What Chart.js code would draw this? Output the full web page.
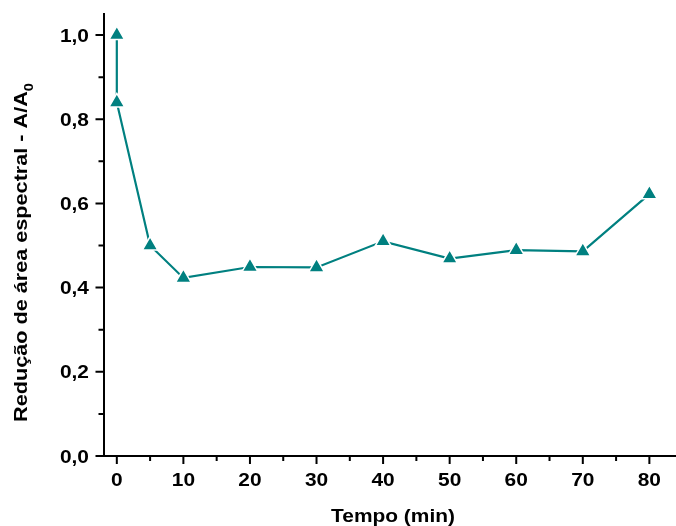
<!DOCTYPE html>
<html>
<head>
<meta charset="utf-8">
<script src="https://cdn.jsdelivr.net/npm/chart.js@4/dist/chart.umd.min.js"></script>
<style>
    html, body { margin: 0; padding: 0; background: #fff; }
    #wrap { width: 676px; height: 526px; position: relative; }
</style>
</head>
<body>
<div id="wrap"><canvas id="reductionChart"></canvas></div>
<script>
// Data
const timeMin = [0, 0, 5, 10, 20, 30, 40, 50, 60, 70, 80];
const areaRatio = [1.0, 0.84, 0.50, 0.423, 0.449, 0.448, 0.51, 0.469, 0.489, 0.486, 0.622];

// Tick values
const xMajorTicks = [0, 10, 20, 30, 40, 50, 60, 70, 80];
const xMinorTicks = [5, 15, 25, 35, 45, 55, 65, 75];
const yMajorTicks = [0, 0.2, 0.4, 0.6, 0.8, 1.0];
const yMinorTicks = [0.1, 0.3, 0.5, 0.7, 0.9];

const xTitle = 'Tempo (min)';
const yTitle = 'Redução de área espectral - A/A';
const yTitleSub = '0';

const teal = '#008080';
const fontFamily = '"Liberation Sans", Arial, sans-serif';
const fontSize = 18.5;
const stretch = 1.13; // the original text is a bit wider than plain Arial

// draw text stretched horizontally, anchored at (x, y) with given alignment
function stretchedText(ctx, text, x, y, align, k) {
    const s = k || stretch;
    const w = ctx.measureText(text).width * s;
    let left = x;
    if (align === 'center') left = x - w / 2;
    if (align === 'right') left = x - w;
    ctx.save();
    ctx.translate(left, y);
    ctx.scale(s, 1);
    ctx.textAlign = 'left';
    ctx.fillText(text, 0, 0);
    ctx.restore();
    return w;
}

// Ticks, tick labels and axis titles drawn on top
const axesPlugin = {
    id: 'axesExtras',
    afterDraw(chart) {
        const ctx = chart.ctx;
        const x = chart.scales.x;
        const y = chart.scales.y;
        const area = chart.chartArea;

        ctx.save();
        ctx.strokeStyle = '#000';
        ctx.lineWidth = 2;
        ctx.beginPath();
        xMajorTicks.forEach(v => {
            const px = x.getPixelForValue(v);
            ctx.moveTo(px, area.bottom);
            ctx.lineTo(px, area.bottom + 8);
        });
        xMinorTicks.forEach(v => {
            const px = x.getPixelForValue(v);
            ctx.moveTo(px, area.bottom);
            ctx.lineTo(px, area.bottom + 5);
        });
        yMajorTicks.forEach(v => {
            const py = y.getPixelForValue(v);
            ctx.moveTo(area.left, py);
            ctx.lineTo(area.left - 8, py);
        });
        yMinorTicks.forEach(v => {
            const py = y.getPixelForValue(v);
            ctx.moveTo(area.left, py);
            ctx.lineTo(area.left - 5, py);
        });
        ctx.stroke();

        ctx.fillStyle = '#000';
        ctx.font = 'bold ' + fontSize + 'px ' + fontFamily;
        ctx.textBaseline = 'alphabetic';

        // tick labels
        xMajorTicks.forEach(v => {
            stretchedText(ctx, String(v), x.getPixelForValue(v), 486, 'center');
        });
        yMajorTicks.forEach(v => {
            const label = v.toFixed(1).replace('.', ',');
            stretchedText(ctx, label, 89, y.getPixelForValue(v) + 6.6, 'right');
        });

        // x title
        stretchedText(ctx, xTitle, 393, 522, 'center');

        // y title, rotated, with subscript 0
        const k = 1.17;
        const wMain = ctx.measureText(yTitle).width * k;
        ctx.font = 'bold 12.5px ' + fontFamily;
        const wSub = ctx.measureText(yTitleSub).width * k;
        const total = wMain + wSub;
        ctx.translate(27, 252.5);
        ctx.rotate(-Math.PI / 2);
        ctx.font = 'bold ' + fontSize + 'px ' + fontFamily;
        stretchedText(ctx, yTitle, -total / 2, 0, 'left', k);
        ctx.font = 'bold 12.5px ' + fontFamily;
        stretchedText(ctx, yTitleSub, -total / 2 + wMain, 6, 'left', k);
        ctx.restore();
    }
};

const ctxChart = document.getElementById('reductionChart').getContext('2d');
const chartReduction = new Chart(ctxChart, {
    type: 'line',
    data: {
        datasets: [{
            data: timeMin.map((t, i) => ({ x: t, y: areaRatio[i] })),
            borderColor: teal,
            borderWidth: 2.2,
            backgroundColor: teal,
            pointStyle: 'triangle',
            pointRadius: 9,
            pointHoverRadius: 9,
            pointBackgroundColor: teal,
            pointBorderColor: '#fff',
            pointBorderWidth: 1.5,
            tension: 0,
            clip: false
        }]
    },
    options: {
        responsive: true,
        maintainAspectRatio: false,
        animation: false,
        layout: { autoPadding: false, padding: { left: 0, right: 0, top: 14, bottom: 0 } },
        plugins: {
            legend: { display: false },
            tooltip: { enabled: false }
        },
        scales: {
            x: {
                type: 'linear',
                min: -2,
                max: 84,
                afterFit: scale => { scale.height = 70; },
                grid: { display: false },
                border: { display: true, color: '#000', width: 2 },
                ticks: { display: false }
            },
            y: {
                min: 0,
                max: 1.05,
                afterFit: scale => { scale.width = 103.5; },
                grid: { display: false },
                border: { display: true, color: '#000', width: 2 },
                ticks: { display: false }
            }
        }
    },
    plugins: [axesPlugin]
});
</script>
</body>
</html>
